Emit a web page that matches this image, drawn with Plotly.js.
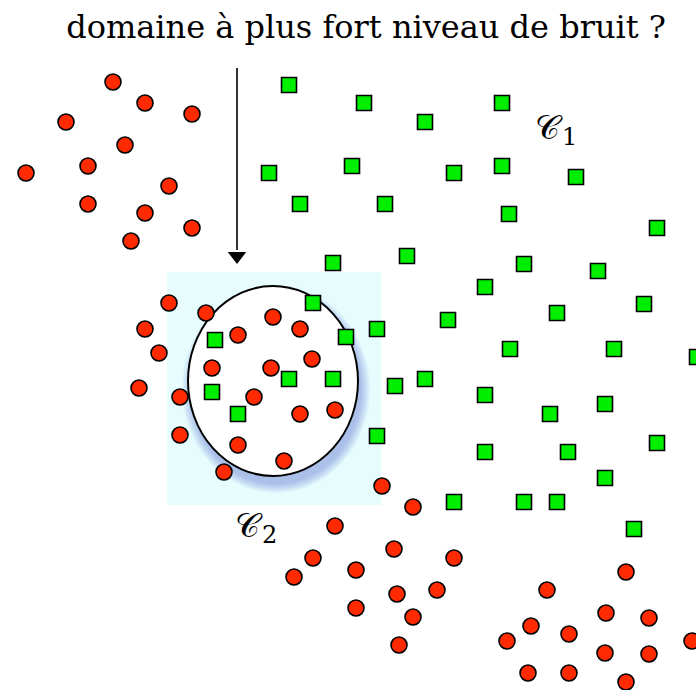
<!DOCTYPE html>
<html>
<head>
<meta charset="utf-8">
<script src="https://cdn.plot.ly/plotly-3.0.1.min.js"></script>
<style>html,body{margin:0;padding:0;background:#fff;}#chart{width:696px;height:690px;}</style>
</head>
<body>
<div id="chart"></div>
<script>
// Class C2 (red circles)
const redX = [113,145,192,66,125,88,26,169,88,145,192,131,
  169,206,273,145,238,300,159,212,271,312,139,180,254,300,335,180,238,284,224,
  382,413,335,394,454,313,294,356,397,437,356,413,399,
  626,547,606,649,531,507,569,605,649,692,528,569,626];
const redY = [82,103,114,122,145,166,173,186,204,213,228,241,
  303,313,317,329,335,329,353,368,368,359,388,397,397,414,410,435,445,461,472,
  486,507,526,549,558,558,577,570,594,590,608,617,645,
  572,590,613,618,626,641,634,653,654,641,673,673,682];
// Class C1 (green squares)
const greenX = [289,364,425,269,352,454,300,385,333,407,502,502,576,509,657,524,598,
  485,644,448,557,377,510,614,697,395,425,485,550,605,377,485,568,657,605,454,524,557,634,
  313,215,346,289,333,212,238];
const greenY = [85,103,122,173,166,173,204,204,263,256,103,166,177,214,228,264,271,
  287,304,320,313,329,349,349,357,386,379,395,414,404,436,452,452,443,478,502,502,502,529,
  303,340,337,379,379,392,414];
// Labels
const titleText = "domaine à plus fort niveau de bruit ?";
const classSymbol = "𝒞";
const classIndices = ["1", "2"];

const shapes = [];
shapes.push({type:'rect', xref:'x', yref:'y', x0:167, x1:381, y0:272, y1:505,
  fillcolor:'#e6fcfd', line:{width:0}, layer:'below'});
// soft shadow of the ellipse
const cx = 273, cy = 381, rx = 85, ry = 95;
for (let k = 9; k >= 0; k--) {
  shapes.push({type:'circle', xref:'x', yref:'y',
    x0: cx + 3 - rx - k, x1: cx + 3 + rx + k, y0: cy + 8 - ry - k, y1: cy + 8 + ry + k,
    fillcolor:'rgba(80,100,200,0.045)', line:{width:0}, layer:'below'});
}
shapes.push({type:'circle', xref:'x', yref:'y', x0:cx-rx, x1:cx+rx, y0:cy-ry, y1:cy+ry,
  fillcolor:'#ffffff', line:{color:'#000', width:2}, layer:'below'});
// arrow shaft
shapes.push({type:'line', xref:'x', yref:'y', x0:237, x1:237, y0:68, y1:250,
  line:{color:'#000', width:1.6}});

const traces = [
  {x: greenX, y: greenY, type:'scatter', mode:'markers', hoverinfo:'skip',
   marker:{symbol:'square', size:15, color:'#00ee00', line:{color:'#000', width:1.6}}},
  {x: redX, y: redY, type:'scatter', mode:'markers', hoverinfo:'skip',
   marker:{symbol:'circle', size:16, color:'#ff2a00', line:{color:'#000', width:1.6}}},
  // arrow head
  {x: [237], y: [256], type:'scatter', mode:'markers', hoverinfo:'skip',
   marker:{symbol:'triangle-down', size:16, color:'#000', line:{width:0}}}
];

const symFont = {family:'DejaVu Serif, serif', size:34, color:'#000'};
const idxFont = {family:'DejaVu Serif, serif', size:24, color:'#000'};
const layout = {
  width:696, height:690, margin:{l:0,r:0,t:0,b:0},
  paper_bgcolor:'#fff', plot_bgcolor:'#fff', showlegend:false,
  title:{text:titleText, x:0.526, xanchor:'center', y:0.961, yanchor:'middle',
         font:{family:'DejaVu Serif, serif', size:32, color:'#000'}},
  xaxis:{range:[0,696], visible:false, fixedrange:true},
  yaxis:{range:[690,0], visible:false, fixedrange:true},
  shapes: shapes,
  annotations: [
    {x:549, y:127, xref:'x', yref:'y', text:classSymbol, showarrow:false, font:symFont},
    {x:569, y:137, xref:'x', yref:'y', text:classIndices[0], showarrow:false, font:idxFont},
    {x:249, y:525, xref:'x', yref:'y', text:classSymbol, showarrow:false, font:symFont},
    {x:269, y:535, xref:'x', yref:'y', text:classIndices[1], showarrow:false, font:idxFont}
  ]
};
Plotly.newPlot('chart', traces, layout, {displayModeBar:false});
</script>
</body>
</html>
